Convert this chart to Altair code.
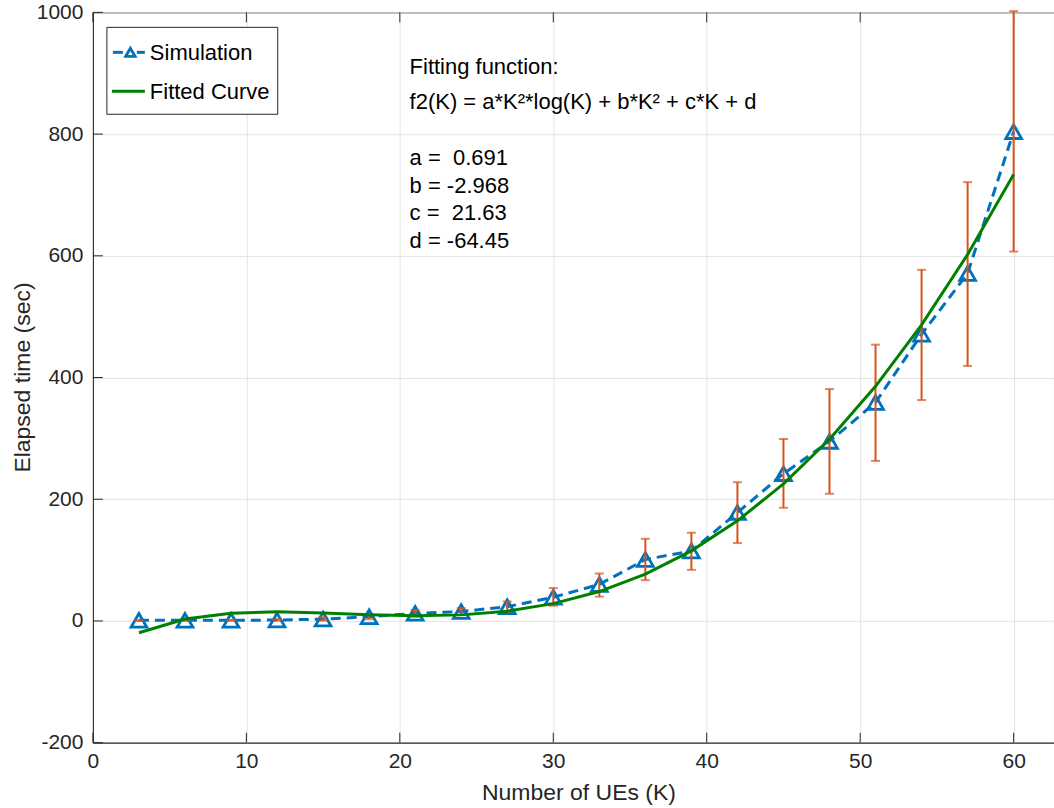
import altair as alt
import pandas as pd

# ---- data ----
K = [3, 6, 9, 12, 15, 18, 21, 24, 27, 30, 33, 36, 39, 42, 45, 48, 51, 54, 57, 60]
sim_mean = [1, 1, 1, 1.5, 3, 7, 12.5, 15.5, 23.5, 39, 60, 101, 115, 178, 242, 295, 359, 471, 571, 804]
err_low = [0, 0, 0, 0.5, 0.5, 3, 7, 10, 15, 25, 40, 67, 84, 128, 186, 209, 263, 363, 419, 607]
err_high = [1, 2, 2, 3, 6, 11, 18, 21, 32, 54, 78, 135, 145, 228, 299, 381, 454, 577, 721, 1002]
fit_vals = [-19.4, 3.1, 12.8, 15.0, 13.2, 10.4, 8.7, 10.0, 16.1, 28.5, 48.3, 76.9, 115.2,
            164.5, 225.3, 298.6, 385.5, 486.6, 602.2, 733.5]
x_ticks = [0, 10, 20, 30, 40, 50, 60]
y_ticks = [-200, 0, 200, 400, 600, 800, 1000]

legend_labels = ["Simulation", "Fitted Curve"]
annot_lines = ["Fitting function:",
               "f2(K) = a*K\u00b2*log(K) + b*K\u00b2 + c*K + d",
               "a = \u00a00.691",
               "b = -2.968",
               "c = \u00a021.63",
               "d = -64.45"]

df = pd.DataFrame({"K": K, "sim": sim_mean, "lo": err_low, "hi": err_high, "fit": fit_vals})
xt = pd.DataFrame({"t": x_ticks})
yt = pd.DataFrame({"t": y_ticks})
one = pd.DataFrame({"d": [0]})

W, H = 962, 731
BLUE = "#0072BD"
ORANGE = "#D95319"
GREEN = "#008000"
AX = "#262626"
FONT = "Liberation Sans"

xs = alt.Scale(domain=[0, 62.63], nice=False, zero=False)
ys = alt.Scale(domain=[-200, 1000], nice=False, zero=False)

xaxis = alt.Axis(values=x_ticks, title="Number of UEs (K)", labelExpr="datum.value + ''",
                 labelFlush=False, labelPadding=8, titleX=486, titleY=50,
                 titleBaseline="middle", titleAlign="center")
yaxis = alt.Axis(values=y_ticks, title="Elapsed time (sec)", labelExpr="datum.value + ''",
                 labelPadding=10, titleX=-70, titleY=365, titleAngle=-90,
                 titleBaseline="middle", titleAlign="center")


def X(field):
    return alt.X(field, type="quantitative", scale=xs, axis=xaxis)


def Y(field):
    return alt.Y(field, type="quantitative", scale=ys, axis=yaxis)


base = alt.Chart(df)

sim_line = base.mark_line(color=BLUE, strokeWidth=3, strokeDash=[10, 6]).encode(x=X("K"), y=Y("sim"))
sim_pts = base.mark_point(shape="triangle-up", size=250, filled=False, color=BLUE,
                          strokeWidth=2.8, opacity=1).encode(x=X("K"), y=Y("sim"))
err_rule = base.mark_rule(color=ORANGE, strokeWidth=2).encode(x=X("K"), y=Y("lo"), y2="hi")
cap_lo = base.mark_tick(color=ORANGE, orient="horizontal", size=9, thickness=2).encode(x=X("K"), y=Y("lo"))
cap_hi = base.mark_tick(color=ORANGE, orient="horizontal", size=9, thickness=2).encode(x=X("K"), y=Y("hi"))
fit_line = base.mark_line(color=GREEN, strokeWidth=3).encode(x=X("K"), y=Y("fit"))

# inward tick marks (MATLAB style)
xtick_b = alt.Chart(xt).mark_rule(color=AX, strokeWidth=1).encode(
    x=X("t"), y=alt.value(H), y2=alt.value(H - 10))
xtick_t = alt.Chart(xt).mark_rule(color=AX, strokeWidth=1).encode(
    x=X("t"), y=alt.value(0), y2=alt.value(10))
ytick_l = alt.Chart(yt).mark_rule(color=AX, strokeWidth=1).encode(
    y=Y("t"), x=alt.value(0), x2=alt.value(10))

# legend box
c1 = alt.Chart(one)
leg_box = c1.mark_rect(fill="white", stroke=AX, strokeWidth=1).encode(
    x=alt.value(14), x2=alt.value(185), y=alt.value(15), y2=alt.value(102))
leg_d1 = c1.mark_rule(color=BLUE, strokeWidth=3).encode(x=alt.value(20), x2=alt.value(30), y=alt.value(40))
leg_d2 = c1.mark_rule(color=BLUE, strokeWidth=3).encode(x=alt.value(44), x2=alt.value(52), y=alt.value(40))
leg_tri = c1.mark_point(shape="triangle-up", size=90, filled=False, color=BLUE, strokeWidth=2.8,
                        opacity=1).encode(x=alt.value(37.5), y=alt.value(40))
leg_g = c1.mark_rule(color=GREEN, strokeWidth=3).encode(x=alt.value(19), x2=alt.value(52), y=alt.value(79))
leg_t1 = c1.mark_text(text=legend_labels[0], font=FONT, fontSize=22, align="left", baseline="middle",
                      color="black").encode(x=alt.value(57), y=alt.value(41))
leg_t2 = c1.mark_text(text=legend_labels[1], font=FONT, fontSize=22, align="left", baseline="middle",
                      color="black").encode(x=alt.value(57), y=alt.value(80))

annot_y = [55, 90, 146, 174, 201, 229]
annots = [c1.mark_text(text=t, font=FONT, fontSize=22, align="left", baseline="middle",
                       color="black").encode(x=alt.value(317), y=alt.value(yy))
          for t, yy in zip(annot_lines, annot_y)]

chart = alt.layer(
    xtick_b, xtick_t, ytick_l,
    sim_line, sim_pts, err_rule, cap_lo, cap_hi, fit_line,
    leg_box, leg_d1, leg_d2, leg_tri, leg_g, leg_t1, leg_t2,
    *annots
).properties(
    width=W, height=H,
    autosize=alt.AutoSizeParams(type="none"),
    padding={"left": 93, "top": 12, "right": 0, "bottom": 65},
    background="white",
).configure_view(
    stroke=AX, strokeWidth=1
).configure_axis(
    domainColor=AX, domainWidth=1, labelColor=AX, labelFont=FONT, labelFontSize=21,
    titleColor=AX, titleFont=FONT, titleFontSize=23, titleFontWeight="normal",
    ticks=False, grid=True, gridColor="#e3e3e3", gridWidth=1, labelOverlap=False,
)

chart.save("out.html", embed_options={"renderer": "svg", "actions": False})
